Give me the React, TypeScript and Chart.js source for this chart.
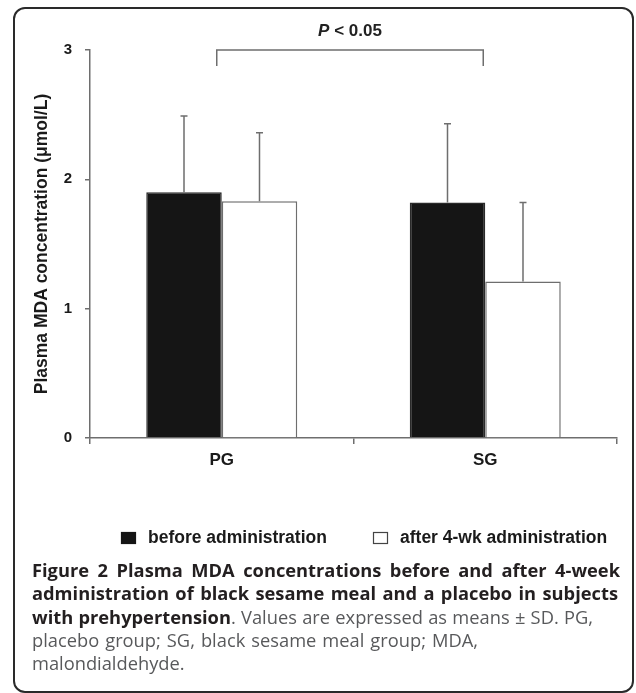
import React, { useEffect, useRef } from 'react';
import { Chart, registerables } from 'chart.js';

Chart.register(...registerables);

// ---- data ----
const categories = ['PG', 'SG'];
const seriesLabels = ['before administration', 'after 4-wk administration'];
const beforeValues = [1.9, 1.82];
const afterValues = [1.83, 1.21];
const beforeSD = [0.59, 0.61];
const afterSD = [0.53, 0.61];
const yTicks = [0, 1, 2, 3];
const yAxisTitle = 'Plasma MDA concentration (μmol/L)';
const significanceP = 'P';
const significanceRest = ' < 0.05';

const FONT = "'Liberation Sans', Arial, sans-serif";

const errorBarPlugin = {
  id: 'errorBars',
  afterDatasetsDraw(chart: any) {
    const ctx = chart.ctx;
    const yScale = chart.scales.y;
    chart.data.datasets.forEach((ds: any, di: number) => {
      const meta = chart.getDatasetMeta(di);
      meta.data.forEach((bar: any, i: number) => {
        const top = yScale.getPixelForValue(ds.data[i] + ds.sd[i]);
        ctx.save();
        ctx.strokeStyle = '#6e6e6e';
        ctx.lineWidth = 1.5;
        ctx.beginPath();
        ctx.moveTo(bar.x, bar.y);
        ctx.lineTo(bar.x, top);
        ctx.moveTo(bar.x - 3.5, top);
        ctx.lineTo(bar.x + 3.5, top);
        ctx.stroke();
        ctx.restore();
      });
    });
  },
};

const bracketPlugin = {
  id: 'bracket',
  afterDraw(chart: any) {
    const ctx = chart.ctx;
    const xs = chart.scales.x;
    const ys = chart.scales.y;
    const x1 = xs.getPixelForValue(0) - 5;
    const x2 = xs.getPixelForValue(1) - 2;
    const y = ys.getPixelForValue(yTicks[yTicks.length - 1]);
    ctx.save();
    ctx.strokeStyle = '#6e6e6e';
    ctx.lineWidth = 1.5;
    ctx.beginPath();
    ctx.moveTo(x1, y + 16);
    ctx.lineTo(x1, y);
    ctx.lineTo(x2, y);
    ctx.lineTo(x2, y + 16);
    ctx.stroke();
    // text
    const cx = (x1 + x2) / 2;
    ctx.fillStyle = '#222';
    ctx.textBaseline = 'middle';
    ctx.textAlign = 'left';
    ctx.font = `italic bold 17px ${FONT}`;
    const wP = ctx.measureText(significanceP).width;
    ctx.font = `bold 17px ${FONT}`;
    const wR = ctx.measureText(significanceRest).width;
    const sx = cx - (wP + wR) / 2;
    ctx.font = `italic bold 17px ${FONT}`;
    ctx.fillText(significanceP, sx, y - 19);
    ctx.font = `bold 17px ${FONT}`;
    ctx.fillText(significanceRest, sx + wP, y - 19);
    ctx.restore();
  },
};

const legendPlugin = {
  id: 'customLegend',
  afterDraw(chart: any) {
    const ctx = chart.ctx;
    const cy = chart.chartArea.bottom + 100;
    const starts = [121, 373];
    ctx.save();
    ctx.font = `bold 17.5px ${FONT}`;
    ctx.textBaseline = 'middle';
    ctx.textAlign = 'left';
    chart.data.datasets.forEach((ds: any, i: number) => {
      const x = starts[i];
      ctx.fillStyle = ds.backgroundColor;
      ctx.fillRect(x, cy - 6, 15, 12);
      ctx.strokeStyle = i === 0 ? '#151515' : '#444';
      ctx.lineWidth = 1.2;
      ctx.strokeRect(x + 0.5, cy - 5.5, 14, 11);
      ctx.fillStyle = '#1a1a1a';
      ctx.fillText(ds.label, x + 27, cy);
    });
    ctx.restore();
  },
};

function ChartCanvas() {
  const ref = useRef<HTMLCanvasElement | null>(null);
  useEffect(() => {
    if (!ref.current) return;
    const chart = new Chart(ref.current, {
      type: 'bar',
      data: {
        labels: categories,
        datasets: [
          {
            label: seriesLabels[0],
            data: beforeValues,
            sd: beforeSD,
            backgroundColor: '#151515',
            borderColor: '#2a2a2a',
            borderWidth: 1.5,
            categoryPercentage: 0.573,
            barPercentage: 1.0,
          } as any,
          {
            label: seriesLabels[1],
            data: afterValues,
            sd: afterSD,
            backgroundColor: '#ffffff',
            borderColor: '#6e6e6e',
            borderWidth: 1.5,
            categoryPercentage: 0.573,
            barPercentage: 1.0,
          } as any,
        ],
      },
      options: {
        responsive: false,
        animation: false,
        layout: { padding: { left: 28, right: 19, top: 50, bottom: 0 } },
        plugins: {
          legend: { display: false },
          tooltip: { enabled: false },
        },
        scales: {
          x: {
            type: 'category',
            offset: true,
            grid: {
              offset: true,
              drawOnChartArea: false,
              drawTicks: true,
              tickLength: 6,
              color: '#6e6e6e',
              lineWidth: 1.5,
            },
            border: { display: true, color: '#6e6e6e', width: 1.5 },
            ticks: {
              color: '#1a1a1a',
              font: { family: FONT, size: 17, weight: 'bold' },
              padding: 6,
            },
            afterFit: (s: any) => {
              s.height = 122;
            },
          },
          y: {
            min: yTicks[0],
            max: yTicks[yTicks.length - 1],
            afterBuildTicks: (s: any) => {
              s.ticks = yTicks.map((v) => ({ value: v }));
            },
            grid: {
              drawOnChartArea: false,
              drawTicks: true,
              tickLength: 5,
              color: '#6e6e6e',
              lineWidth: 1.5,
            },
            border: { display: true, color: '#6e6e6e', width: 1.5 },
            ticks: {
              color: '#1a1a1a',
              font: { family: FONT, size: 15, weight: 'bold' },
              padding: 13,
            },
            title: {
              display: true,
              text: yAxisTitle,
              color: '#1a1a1a',
              font: { family: FONT, size: 17.5, weight: 'bold' },
              padding: { top: 4, bottom: 4 },
            },
            afterFit: (s: any) => {
              s.width = 62;
            },
          },
        },
      } as any,
      plugins: [errorBarPlugin, bracketPlugin, legendPlugin],
    });
    return () => chart.destroy();
  }, []);
  return (
    <canvas
      ref={ref}
      width={636}
      height={560}
      style={{ position: 'absolute', left: 0, top: 0, width: 636, height: 560 }}
    />
  );
}

export default function App() {
  const bold = { fontWeight: 700, color: '#231f20' } as React.CSSProperties;
  const just = { textAlign: 'justify', textAlignLast: 'justify' } as React.CSSProperties;
  return (
    <div
      style={{
        position: 'absolute',
        left: 0,
        top: 0,
        width: 636,
        height: 693,
        overflow: 'hidden',
        background: '#fff',
      }}
    >
      <div
        style={{
          position: 'absolute',
          left: 13,
          top: 7,
          width: 621,
          height: 686,
          boxSizing: 'border-box',
          border: '2px solid #2a2a2a',
          borderRadius: 12,
        }}
      />
      <ChartCanvas />
      <div
        style={{
          position: 'absolute',
          left: 32,
          top: 558,
          fontFamily: "'Open Sans', sans-serif",
          fontSize: 18.3,
          lineHeight: '23.3px',
          color: '#58595b',
        }}
      >
        <div style={{ ...bold, ...just, width: 588 }}>
          Figure 2 Plasma MDA concentrations before and after 4-week
        </div>
        <div style={{ ...bold, ...just, width: 586 }}>
          administration of black sesame meal and a placebo in subjects
        </div>
        <div style={{ ...just, width: 561 }}>
          <span style={bold}>with prehypertension</span>. Values are expressed as means ± SD. PG,
        </div>
        <div style={{ ...just, width: 446 }}>placebo group; SG, black sesame meal group; MDA,</div>
        <div>malondialdehyde.</div>
      </div>
    </div>
  );
}
